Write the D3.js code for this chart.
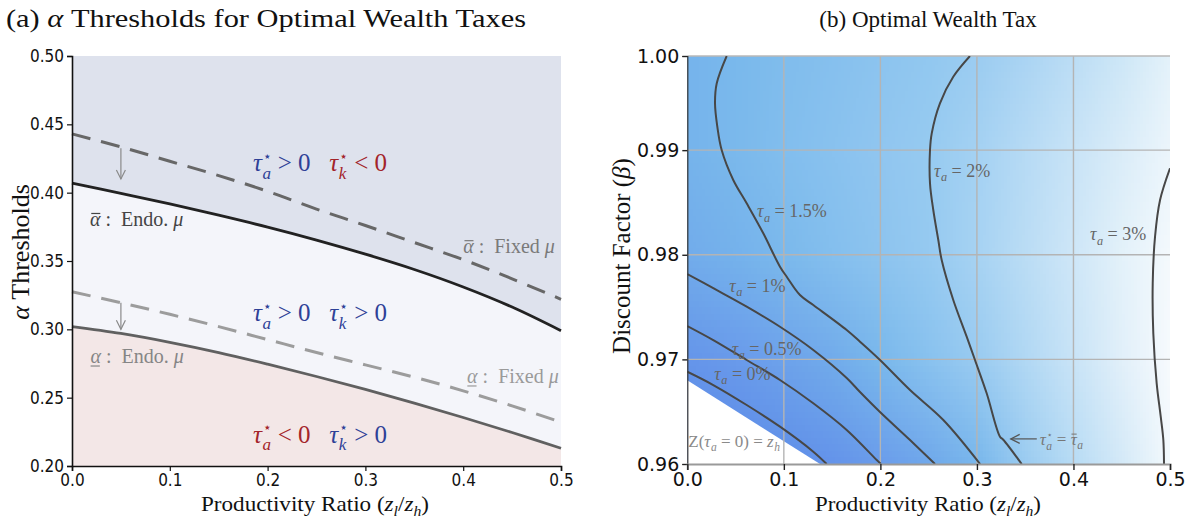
<!DOCTYPE html>
<html><head><meta charset="utf-8">
<script src="https://cdn.jsdelivr.net/npm/d3@7"></script>
<style>body{margin:0;background:#fff;} svg{display:block;} text{white-space:pre;}</style>
</head><body>
<svg id="chart" width="1190" height="529"></svg>
<script>
// ================= DATA =================
// Panel (a): alpha thresholds vs productivity ratio
const zRatio          = [0, 0.05, 0.1, 0.15, 0.2, 0.25, 0.3, 0.35, 0.4, 0.45, 0.5];
const alphaBarEndo    = [0.407, 0.3995, 0.3918, 0.3835, 0.3748, 0.3653, 0.355, 0.3438, 0.331, 0.3163, 0.299];
const alphaBarFixed   = [0.443, 0.4335, 0.423, 0.4125, 0.401, 0.388, 0.376, 0.3635, 0.351, 0.337, 0.322];
const alphaUnderEndo  = [0.302, 0.297, 0.2905, 0.283, 0.2745, 0.2655, 0.256, 0.246, 0.2355, 0.2245, 0.213];
const alphaUnderFixed = [0.3275, 0.3195, 0.311, 0.302, 0.2925, 0.283, 0.274, 0.265, 0.255, 0.244, 0.232];
const aYTicks = [0.20, 0.25, 0.30, 0.35, 0.40, 0.45, 0.50];
const aXTicks = [0.0, 0.1, 0.2, 0.3, 0.4, 0.5];
// arrows: fixed-mu threshold -> endogenous-mu threshold
const arrowX    = [0.05, 0.05];
const arrowFrom = [0.4325, 0.3195];
const arrowTo   = [0.410, 0.300];

// Panel (b): optimal wealth tax (%) over (z_l/z_h, beta)
const gridZ    = [0, 0.05, 0.1, 0.15, 0.2, 0.25, 0.3, 0.35, 0.4, 0.45, 0.5];
const gridBeta = [1.00, 0.99, 0.98, 0.97, 0.96];
const taxGrid  = [
  [1.35, 1.52, 1.62, 1.71, 1.81, 1.91, 2.03, 2.20, 2.40, 2.60, 2.85],
  [1.35, 1.53, 1.65, 1.76, 1.88, 1.99, 2.15, 2.35, 2.55, 2.75, 2.95],
  [1.10, 1.30, 1.53, 1.68, 1.82, 1.97, 2.17, 2.40, 2.62, 2.85, 3.07],
  [0.13, 0.42, 0.73, 1.06, 1.50, 1.76, 2.01, 2.28, 2.55, 2.82, 3.10],
  [-1.2, -0.8, -0.4, 0.05, 0.50, 0.95, 1.47, 2.03, 2.36, 2.68, 3.05]
];
// contour lines: [z, beta] pairs
const contour0   = [[0,0.96882],[0.0269,0.96755],[0.0615,0.96564],[0.0960,0.96357],[0.1305,0.96118],[0.1444,0.96]];
const contour05  = [[0,0.97319],[0.0269,0.97185],[0.0615,0.96994],[0.0960,0.96803],[0.1305,0.96580],[0.1651,0.96325],[0.1962,0.96038],[0.2006,0.96]];
const contour1   = [[0,0.97816],[0.0269,0.97680],[0.0615,0.97504],[0.0960,0.97312],[0.1305,0.97090],[0.1651,0.96822],[0.1789,0.96688],[0.1996,0.96497],[0.2307,0.96229],[0.2566,0.96]];
const contour15  = [[0.0408,0.999],[0.0305,0.99639],[0.0287,0.99448],[0.0311,0.99224],[0.0356,0.99001],[0.0476,0.98715],[0.0615,0.98492],[0.0787,0.98205],[0.0960,0.97886],[0.1030,0.97790],[0.1167,0.97615],[0.1305,0.97520],[0.1651,0.97281],[0.1789,0.97169],[0.1996,0.96994],[0.2307,0.96707],[0.2652,0.96421],[0.3033,0.96]];
const contour2   = [[0.2928,0.999],[0.2755,0.99702],[0.2617,0.99448],[0.2532,0.99161],[0.2514,0.99001],[0.2514,0.98683],[0.2548,0.98428],[0.2600,0.98141],[0.2635,0.97950],[0.2755,0.97568],[0.2894,0.97217],[0.2980,0.96994],[0.3101,0.96676],[0.3239,0.96261],[0.3273,0.96232],[0.3464,0.96]];
const contour3   = [[0.5000,0.98827],[0.4897,0.98524],[0.4845,0.98173],[0.4821,0.97727],[0.4827,0.97249],[0.4862,0.96771],[0.4904,0.96452],[0.4931,0.96229],[0.4938,0.96]];
const contours = [contour0, contour05, contour1, contour15, contour2, contour3];
// infeasible region boundary (Z(tau_a=0) = z_h)
const infeasible = [[0,0.968],[0.1375,0.96],[0,0.96]];
const bYTicks = [0.96, 0.97, 0.98, 0.99, 0.999];
const bYLabels = ["0.96", "0.97", "0.98", "0.99", "1.00"];
const bXTicks = [0.0, 0.1, 0.2, 0.3, 0.4, 0.5];

// ================= DRAWING =================
const svg = d3.select("#chart");
const SERIF = "'Liberation Serif', 'DejaVu Serif', serif";
const SANSC = "'DejaVu Sans Condensed', 'Liberation Sans Narrow', 'DejaVu Sans', sans-serif";
const SANS  = "'DejaVu Sans', sans-serif";

function mathLabel(g, x, y, parts, base) {
  const grp = g.append("g");
  let cx = x;
  parts.forEach(p => {
    if (p.space) { cx += p.space * base.size; return; }
    const size = base.size * (p.scale || 1);
    const col = p.color || base.color;
    const t = grp.append("text").attr("x", cx).attr("y", y)
      .attr("font-family", p.fam || SERIF).attr("font-size", size)
      .attr("font-style", p.it ? "italic" : "normal").attr("fill", col).text(p.t);
    const w = t.node().getComputedTextLength();
    if (p.over) {
      grp.append("line").attr("x1", cx + w*0.12).attr("x2", cx + w*0.98)
        .attr("y1", y - size*0.62).attr("y2", y - size*0.62)
        .attr("stroke", col).attr("stroke-width", Math.max(1, size*0.06));
    }
    if (p.under) {
      grp.append("line").attr("x1", cx + w*0.02).attr("x2", cx + w*0.9)
        .attr("y1", y + size*0.16).attr("y2", y + size*0.16)
        .attr("stroke", col).attr("stroke-width", Math.max(1, size*0.06));
    }
    let w2 = 0;
    if (p.sup) {
      const s = grp.append("text").attr("x", cx + w + 1).attr("y", y - size*0.42)
        .attr("font-family", SANS).attr("font-size", size*0.55).attr("fill", col).text(p.sup);
      w2 = Math.max(w2, s.node().getComputedTextLength() + 1);
    }
    if (p.sub) {
      const s = grp.append("text").attr("x", cx + w + 0.5).attr("y", y + size*(p.sup ? 0.3 : 0.25))
        .attr("font-family", SERIF).attr("font-style", "italic").attr("font-size", size*0.68).attr("fill", col).text(p.sub);
      w2 = Math.max(w2, s.node().getComputedTextLength() + 0.5);
    }
    cx += w + w2;
  });
  return grp;
}

// ---------- Panel (a) ----------
const A = {l: 72, r: 561, t: 56, b: 466};
const ax = d3.scaleLinear().domain([0, 0.5]).range([A.l, A.r]);
const ay = d3.scaleLinear().domain([0.2, 0.5]).range([A.b, A.t]);
const ga = svg.append("g");

const idx = d3.range(zRatio.length);
const cur = d3.curveCatmullRom.alpha(0.5);
ga.append("path").datum(idx).attr("fill", "#dee2ed")
  .attr("d", d3.area().curve(cur).x(i => ax(zRatio[i])).y0(() => ay(0.5)).y1(i => ay(alphaBarEndo[i])));
ga.append("path").datum(idx).attr("fill", "#f4f5fa")
  .attr("d", d3.area().curve(cur).x(i => ax(zRatio[i])).y0(i => ay(alphaUnderEndo[i])).y1(i => ay(alphaBarEndo[i])));
ga.append("path").datum(idx).attr("fill", "#f3e7e7")
  .attr("d", d3.area().curve(cur).x(i => ax(zRatio[i])).y0(() => ay(0.2)).y1(i => ay(alphaUnderEndo[i])));

const lineA = arr => d3.line().curve(cur).x(i => ax(zRatio[i])).y(i => ay(arr[i]))(idx);
ga.append("path").attr("d", lineA(alphaBarFixed)).attr("fill", "none")
  .attr("stroke", "#676767").attr("stroke-width", 3).attr("stroke-dasharray", "19,11");
ga.append("path").attr("d", lineA(alphaUnderFixed)).attr("fill", "none")
  .attr("stroke", "#9c9c9c").attr("stroke-width", 3).attr("stroke-dasharray", "19,11");
ga.append("path").attr("d", lineA(alphaBarEndo)).attr("fill", "none")
  .attr("stroke", "#222").attr("stroke-width", 2.8);
ga.append("path").attr("d", lineA(alphaUnderEndo)).attr("fill", "none")
  .attr("stroke", "#606060").attr("stroke-width", 2.8);

arrowX.forEach((xv, i) => {
  const x = ax(xv), y0 = ay(arrowFrom[i]), y1 = ay(arrowTo[i]);
  ga.append("line").attr("x1", x).attr("x2", x).attr("y1", y0).attr("y2", y1)
    .attr("stroke", "#8a8a8a").attr("stroke-width", 1.2);
  ga.append("path").attr("d", `M${x-4.5},${y1-9}L${x},${y1}L${x+4.5},${y1-9}`)
    .attr("fill", "none").attr("stroke", "#8a8a8a").attr("stroke-width", 1.2);
});

const axL = ga.append("g").attr("transform", `translate(${A.l},0)`)
  .call(d3.axisLeft(ay).tickValues(aYTicks).tickFormat(d3.format(".2f")).tickSize(5).tickPadding(3));
const axB = ga.append("g").attr("transform", `translate(0,${A.b})`)
  .call(d3.axisBottom(ax).tickValues(aXTicks).tickFormat(d3.format(".1f")).tickSize(5).tickPadding(3));
[axL, axB].forEach(a => {
  a.select(".domain").attr("stroke", "#111").attr("stroke-width", 1.6);
  a.selectAll(".tick line").attr("stroke", "#111").attr("stroke-width", 1.2);
  a.selectAll(".tick text").attr("font-family", SANSC).attr("font-size", 17).attr("fill", "#111");
});

const BLUE = "#2e4197", RED = "#a3242a";
const regSize = 25;
function regionLabel(yv, aPos, kPos) {
  mathLabel(ga, ax(0.185), ay(yv), [
    {t: "τ", it: true, sup: "⋆", sub: "a", color: aPos ? BLUE : RED},
    {t: aPos ? " > 0" : " < 0", color: aPos ? BLUE : RED},
    {space: 0.75},
    {t: "τ", it: true, sup: "⋆", sub: "k", color: kPos ? BLUE : RED},
    {t: kPos ? " > 0" : " < 0", color: kPos ? BLUE : RED}
  ], {size: regSize, color: BLUE});
}
regionLabel(0.4158, true, false);
regionLabel(0.3058, true, true);
regionLabel(0.2171, false, true);

const thrSize = 20;
mathLabel(ga, ax(0.0184), ay(0.3757), [{t: "α", it: true, over: true}, {t: " :  Endo. "}, {t: "μ", it: true}], {size: thrSize, color: "#444"});
mathLabel(ga, ax(0.400), ay(0.3558), [{t: "α", it: true, over: true}, {t: " :  Fixed "}, {t: "μ", it: true}], {size: thrSize, color: "#7a7a7a"});
mathLabel(ga, ax(0.0188), ay(0.2755), [{t: "α", it: true, under: true}, {t: " :  Endo. "}, {t: "μ", it: true}], {size: thrSize, color: "#858585"});
mathLabel(ga, ax(0.404), ay(0.2609), [{t: "α", it: true, under: true}, {t: " :  Fixed "}, {t: "μ", it: true}], {size: thrSize, color: "#9a9a9a"});

// titles
const titleA = svg.append("text").attr("x", 266).attr("y", 27).attr("text-anchor", "middle")
  .attr("font-family", SERIF).attr("font-size", 26).attr("fill", "#111")
  .attr("textLength", 520).attr("lengthAdjust", "spacingAndGlyphs");
titleA.append("tspan").text("(a) ");
titleA.append("tspan").attr("font-style", "italic").text("α");
titleA.append("tspan").text(" Thresholds for Optimal Wealth Taxes");

const yTitleA = svg.append("text").attr("transform", `translate(29,252) rotate(-90)`)
  .attr("text-anchor", "middle").attr("font-family", SERIF).attr("font-size", 26).attr("fill", "#111");
yTitleA.append("tspan").attr("font-style", "italic").text("α");
yTitleA.append("tspan").text(" Thresholds");

function xTitle(cx, len) {
  const t = svg.append("text").attr("x", cx).attr("y", 511).attr("text-anchor", "middle")
    .attr("font-family", SERIF).attr("font-size", 22).attr("fill", "#111")
    .attr("textLength", len).attr("lengthAdjust", "spacingAndGlyphs");
  t.append("tspan").text("Productivity Ratio (");
  t.append("tspan").attr("font-style", "italic").text("z");
  t.append("tspan").attr("font-style", "italic").attr("font-size", 15).attr("dy", 5).text("l");
  t.append("tspan").attr("dy", -5).text("/");
  t.append("tspan").attr("font-style", "italic").text("z");
  t.append("tspan").attr("font-style", "italic").attr("font-size", 15).attr("dy", 5).text("h");
  t.append("tspan").attr("dy", -5).text(")");
}
xTitle(315, 228);

// ---------- Panel (b) ----------
const B = {l: 687.3, r: 1170, t: 56, b: 464};
const bx = d3.scaleLinear().domain([0, 0.5]).range([B.l, B.r]);
const by = d3.scaleLinear().domain([0.96, 0.999]).range([B.b, B.t]);
const gb = svg.append("g");

svg.append("defs").append("clipPath").attr("id", "clipB").append("rect")
  .attr("x", B.l).attr("y", B.t).attr("width", B.r - B.l).attr("height", B.b - B.t);

const taxColor = d3.scaleLinear()
  .domain([-1, 0, 0.5, 1, 1.5, 2, 2.5, 2.9, 3.2])
  .range(["#5a88e8", "#6392ea", "#6a9ceb", "#70a9eb", "#79b8ec", "#98cbf1", "#c4e2f6", "#e9f4fb", "#ffffff"])
  .clamp(true);

const cvs = document.createElement("canvas");
cvs.width = gridZ.length; cvs.height = gridBeta.length;
const ctx = cvs.getContext("2d");
const img = ctx.createImageData(cvs.width, cvs.height);
taxGrid.forEach((row, j) => row.forEach((v, i) => {
  const c = d3.rgb(taxColor(v));
  const k = (j * cvs.width + i) * 4;
  img.data[k] = c.r; img.data[k+1] = c.g; img.data[k+2] = c.b; img.data[k+3] = 255;
}));
ctx.putImageData(img, 0, 0);
const dz = gridZ[1] - gridZ[0], dbt = gridBeta[0] - gridBeta[1];
const heat = gb.append("g").attr("clip-path", "url(#clipB)");
heat.append("image").attr("href", cvs.toDataURL())
  .attr("x", bx(gridZ[0] - dz/2)).attr("y", by(gridBeta[0] + dbt/2))
  .attr("width", bx(gridZ[gridZ.length-1] + dz/2) - bx(gridZ[0] - dz/2))
  .attr("height", by(gridBeta[gridBeta.length-1] - dbt/2) - by(gridBeta[0] + dbt/2))
  .attr("preserveAspectRatio", "none");
heat.append("path").datum(infeasible).attr("fill", "#fff").attr("stroke", "none")
  .attr("d", d => d3.line().x(p => bx(p[0])).y(p => by(p[1]))(d) + "Z");

const grid = gb.append("g");
bXTicks.slice(1, -1).forEach(v => grid.append("line").attr("x1", bx(v)).attr("x2", bx(v))
  .attr("y1", B.t).attr("y2", B.b).attr("stroke", "#b4b4b4").attr("stroke-width", 1.4));
bYTicks.slice(1, -1).forEach(v => grid.append("line").attr("x1", B.l).attr("x2", B.r)
  .attr("y1", by(v)).attr("y2", by(v)).attr("stroke", "#b4b4b4").attr("stroke-width", 1.4));
grid.append("line").attr("x1", B.l).attr("x2", B.r).attr("y1", B.t).attr("y2", B.t)
  .attr("stroke", "#b8b8b8").attr("stroke-width", 1.6);

const cLine = d3.line().curve(d3.curveCatmullRom.alpha(0.5)).x(d => bx(d[0])).y(d => by(d[1]));
gb.append("g").attr("clip-path", "url(#clipB)").selectAll("path").data(contours).join("path")
  .attr("d", cLine).attr("fill", "none").attr("stroke", "#474747").attr("stroke-width", 2);

const cLab = [
  {lev: "1.5%", z: 0.0722, b: 0.98361},
  {lev: "2%",   z: 0.2555, b: 0.98746},
  {lev: "3%",   z: 0.4171, b: 0.98141},
  {lev: "1%",   z: 0.0435, b: 0.97647},
  {lev: "0.5%", z: 0.046,  b: 0.97042},
  {lev: "0%",   z: 0.028,  b: 0.96803}
];
cLab.forEach(d => {
  mathLabel(gb, bx(d.z), by(d.b), [{t: "τ", it: true, sub: "a"}, {t: " = " + d.lev}], {size: 18, color: "#666"});
});
mathLabel(gb, bx(0.001), by(0.96165), [{t: "Z("}, {t: "τ", it: true, sub: "a"}, {t: " = 0) = "}, {t: "z", it: true, sub: "h"}], {size: 17, color: "#8a8a8a"});

const kArrow = {from: 0.362, to: 0.335, b: 0.9624};
gb.append("line").attr("x1", bx(kArrow.from)).attr("x2", bx(kArrow.to))
  .attr("y1", by(kArrow.b)).attr("y2", by(kArrow.b)).attr("stroke", "#555").attr("stroke-width", 1.2);
gb.append("path").attr("d", `M${bx(kArrow.to)+9},${by(kArrow.b)-4.5}L${bx(kArrow.to)},${by(kArrow.b)}L${bx(kArrow.to)+9},${by(kArrow.b)+4.5}`)
  .attr("fill", "none").attr("stroke", "#555").attr("stroke-width", 1.2);
mathLabel(gb, bx(0.365), by(0.96185), [{t: "τ", it: true, sup: "⋆", sub: "a"}, {t: " = "}, {t: "τ", it: true, over: true, sub: "a"}], {size: 17, color: "#777"});

const bL = gb.append("g").attr("transform", `translate(${B.l},0)`)
  .call(d3.axisLeft(by).tickValues(bYTicks).tickFormat((d, i) => bYLabels[i]).tickSize(5).tickPadding(3));
const bB = gb.append("g").attr("transform", `translate(0,${B.b})`)
  .call(d3.axisBottom(bx).tickValues(bXTicks).tickFormat(d3.format(".1f")).tickSize(6).tickPadding(3));
bL.select(".domain").attr("stroke", "#333").attr("stroke-width", 1.2);
bB.select(".domain").attr("stroke", "#9a9a9a").attr("stroke-width", 2);
[bL, bB].forEach(a => {
  a.selectAll(".tick line").attr("stroke", "#222").attr("stroke-width", 1.4);
  a.selectAll(".tick text").attr("font-family", SANS).attr("font-size", 19).attr("fill", "#111");
});

svg.append("text").attr("x", 928).attr("y", 27).attr("text-anchor", "middle")
  .attr("font-family", SERIF).attr("font-size", 23).attr("fill", "#111").text("(b) Optimal Wealth Tax");
const yTitleB = svg.append("text").attr("transform", `translate(630,256) rotate(-90)`)
  .attr("text-anchor", "middle").attr("font-family", SERIF).attr("font-size", 25).attr("fill", "#111");
yTitleB.append("tspan").text("Discount Factor (");
yTitleB.append("tspan").attr("font-style", "italic").text("β");
yTitleB.append("tspan").text(")");
xTitle(928, 226);
</script>
</body></html>
